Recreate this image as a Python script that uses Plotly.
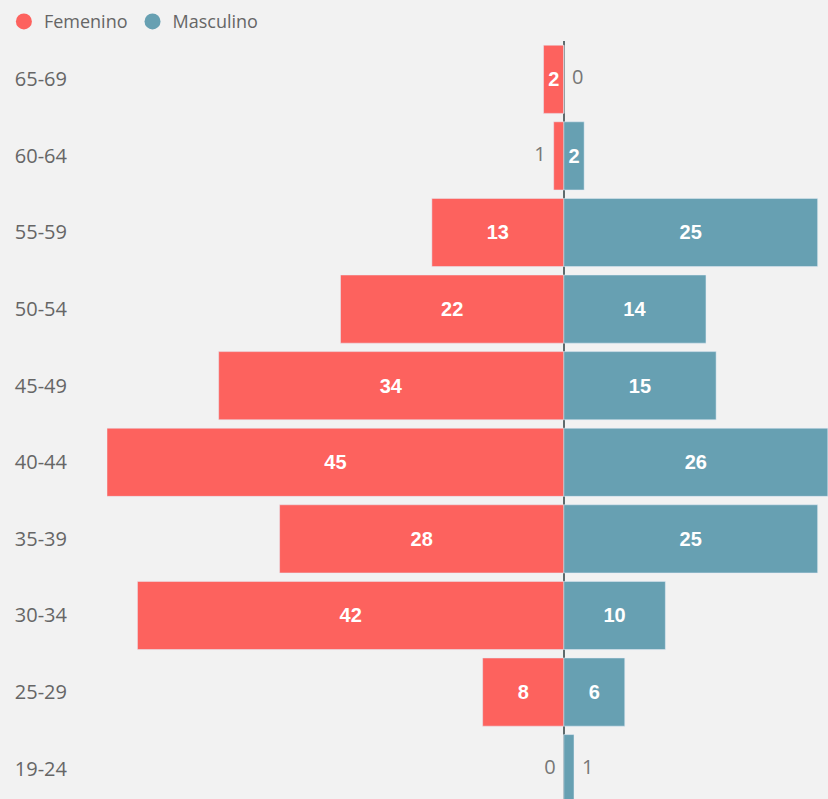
import plotly.graph_objects as go

age_groups = ["19-24", "25-29", "30-34", "35-39", "40-44", "45-49", "50-54", "55-59", "60-64", "65-69"]
femenino = [0, 8, 42, 28, 45, 34, 22, 13, 1, 2]
masculino = [1, 6, 10, 25, 26, 15, 14, 25, 2, 0]

RED = "#FD625E"
TEAL = "#67A0B2"
BG = "#F2F2F2"
THRESH = 2

label_font = dict(color="white", size=20, family="Liberation Sans", weight="bold")
out_font = dict(color="#777777", size=20, family="Open Sans")

fig = go.Figure()

fig.add_trace(go.Bar(
    y=age_groups, x=[-v for v in femenino], orientation="h", marker_color=RED,
    text=[str(v) if v >= THRESH else "" for v in femenino], textposition="inside",
    insidetextanchor="middle", textangle=0, insidetextfont=label_font,
    showlegend=False, hoverinfo="skip",
))
fig.add_trace(go.Bar(
    y=age_groups, x=masculino, orientation="h", marker_color=TEAL,
    text=[str(v) if v >= THRESH else "" for v in masculino], textposition="inside",
    insidetextanchor="middle", textangle=0, insidetextfont=label_font,
    showlegend=False, hoverinfo="skip",
))

# outside labels for small values
f_small = [(g, v) for g, v in zip(age_groups, femenino) if v < THRESH]
m_small = [(g, v) for g, v in zip(age_groups, masculino) if v < THRESH]
fig.add_trace(go.Scatter(
    y=[g for g, v in f_small], x=[-v - 0.8 for g, v in f_small], mode="text",
    text=[str(v) for g, v in f_small], textposition="middle left",
    textfont=out_font, showlegend=False, hoverinfo="skip",
))
fig.add_trace(go.Scatter(
    y=[g for g, v in m_small], x=[v + 0.8 for g, v in m_small], mode="text",
    text=[str(v) for g, v in m_small], textposition="middle right",
    textfont=out_font, showlegend=False, hoverinfo="skip",
))

# legend entries with circle markers
fig.add_trace(go.Scatter(x=[None], y=[None], mode="markers", name="Femenino",
                         marker=dict(color=RED, size=19, symbol="circle")))
fig.add_trace(go.Scatter(x=[None], y=[None], mode="markers", name="Masculino",
                         marker=dict(color=TEAL, size=19, symbol="circle")))

fig.update_layout(
    width=828, height=799,
    paper_bgcolor=BG, plot_bgcolor=BG,
    margin=dict(l=107, r=0, t=41, b=0),
    barmode="overlay", bargap=0.11,
    font=dict(family="Open Sans", color="#666666", size=13),
    legend=dict(orientation="h", x=-0.143, xanchor="left", y=0.996, yanchor="top",
                yref="container", font=dict(size=18, color="#666666"),
                itemwidth=30, bgcolor="rgba(0,0,0,0)"),
    xaxis=dict(range=[-45, 26.02], showgrid=False, showticklabels=False,
               zeroline=True, zerolinecolor="#5F6B6D", zerolinewidth=2, fixedrange=True),
    yaxis=dict(range=[-0.396, 9.5], showgrid=False, zeroline=False,
               categoryorder="array", categoryarray=age_groups,
               ticklabelstandoff=39, tickfont=dict(size=20, color="#666666"), fixedrange=True),
)

fig.write_html(
    "out.html",
    config={"displayModeBar": False},
    post_script="document.body.style.margin='0';document.body.style.background='#F2F2F2';document.body.style.overflow='hidden';",
)
